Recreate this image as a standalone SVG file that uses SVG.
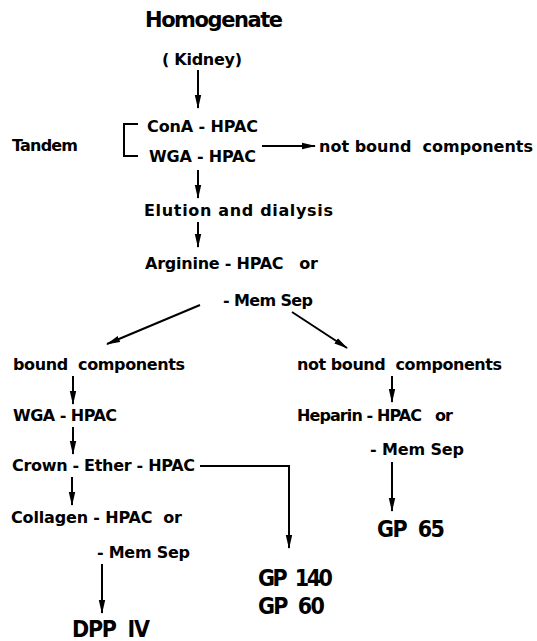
<svg xmlns="http://www.w3.org/2000/svg" width="537" height="641" viewBox="0 0 537 641">
<style>
  text { font-family: "DejaVu Sans", "Liberation Sans", sans-serif; font-weight: bold; fill: #000; }
  .s { font-size: 16px; }
  .big { font-size: 21px; }
  .res { font-family: "DejaVu Sans Condensed", "DejaVu Sans", sans-serif; font-size: 23px; }
  .c { fill: none; stroke: #000; stroke-width: 2; }
</style>
<defs>
  <marker id="ah" markerUnits="userSpaceOnUse" markerWidth="14" markerHeight="8" refX="13" refY="4" orient="auto">
    <path d="M0,0.8 L14,4 L0,7.2 z" fill="#000"/>
  </marker>
</defs>
<rect width="537" height="641" fill="#fff"/>
<g id="homogenate"><text class="big" x="145" y="27" textLength="138" lengthAdjust="spacing">Homogenate</text></g>
<g id="kidney"><text class="s" x="162" y="65" textLength="80" lengthAdjust="spacing">( Kidney)</text></g>
<g id="tandem"><text class="s" x="12" y="151" textLength="66" lengthAdjust="spacing">Tandem</text></g>
<g id="cona"><text class="s" x="147" y="132" textLength="111" lengthAdjust="spacing">ConA - HPAC</text></g>
<g id="wga1"><text class="s" x="149" y="162" textLength="107" lengthAdjust="spacing">WGA - HPAC</text></g>
<g id="notbound1"><text class="s" x="319" y="152" textLength="214" lengthAdjust="spacing" xml:space="preserve">not bound  components</text></g>
<g id="elution"><text class="s" x="144" y="216" textLength="189" lengthAdjust="spacing">Elution and dialysis</text></g>
<g id="arginine"><text class="s" x="145" y="269" textLength="173" lengthAdjust="spacing" xml:space="preserve">Arginine - HPAC   or</text></g>
<g id="memsep1"><text class="s" x="223" y="306" textLength="90" lengthAdjust="spacing">- Mem Sep</text></g>
<g id="bound"><text class="s" x="13" y="370" textLength="172" lengthAdjust="spacing" xml:space="preserve">bound  components</text></g>
<g id="notbound2"><text class="s" x="297" y="370" textLength="205" lengthAdjust="spacing" xml:space="preserve">not bound  components</text></g>
<g id="wga2"><text class="s" x="13" y="421" textLength="104" lengthAdjust="spacing">WGA - HPAC</text></g>
<g id="heparin"><text class="s" x="297" y="421" textLength="156" lengthAdjust="spacing" xml:space="preserve">Heparin - HPAC   or</text></g>
<g id="crown"><text class="s" x="12" y="471" textLength="183" lengthAdjust="spacing">Crown - Ether - HPAC</text></g>
<g id="memsep2"><text class="s" x="370" y="455" textLength="94" lengthAdjust="spacing">- Mem Sep</text></g>
<g id="collagen"><text class="s" x="11" y="523" textLength="171" lengthAdjust="spacing" xml:space="preserve">Collagen - HPAC  or</text></g>
<g id="memsep3"><text class="s" x="97" y="558" textLength="93" lengthAdjust="spacing">- Mem Sep</text></g>
<g id="gp65"><text class="res" x="377" y="537" textLength="68" lengthAdjust="spacing" xml:space="preserve">GP  65</text></g>
<g id="gp140"><text class="res" x="258" y="586" textLength="75" lengthAdjust="spacing" xml:space="preserve">GP  140</text></g>
<g id="gp60"><text class="res" x="258" y="614" textLength="67" lengthAdjust="spacing" xml:space="preserve">GP  60</text></g>
<g id="dpp"><text class="res" x="72" y="637" textLength="78" lengthAdjust="spacing" xml:space="preserve">DPP  IV</text></g>
<g id="connectors">
  <path class="c" d="M138,124 H124 V156 H138"/>
  <path class="c" marker-end="url(#ah)" d="M198,70 V108"/>
  <path class="c" marker-end="url(#ah)" d="M262,146 H315"/>
  <path class="c" marker-end="url(#ah)" d="M198,170 V198"/>
  <path class="c" marker-end="url(#ah)" d="M198,222 V247"/>
  <path class="c" marker-end="url(#ah)" d="M200,305 L107,344"/>
  <path class="c" marker-end="url(#ah)" d="M292,312 L347,348"/>
  <path class="c" marker-end="url(#ah)" d="M73,376 V404"/>
  <path class="c" marker-end="url(#ah)" d="M392,376 V402"/>
  <path class="c" marker-end="url(#ah)" d="M73,427 V454"/>
  <path class="c" marker-end="url(#ah)" d="M72,477 V505"/>
  <path class="c" marker-end="url(#ah)" d="M200,466 H289 V548"/>
  <path class="c" marker-end="url(#ah)" d="M392,462 V511"/>
  <path class="c" marker-end="url(#ah)" d="M102,564 V613"/>
</g>
</svg>
